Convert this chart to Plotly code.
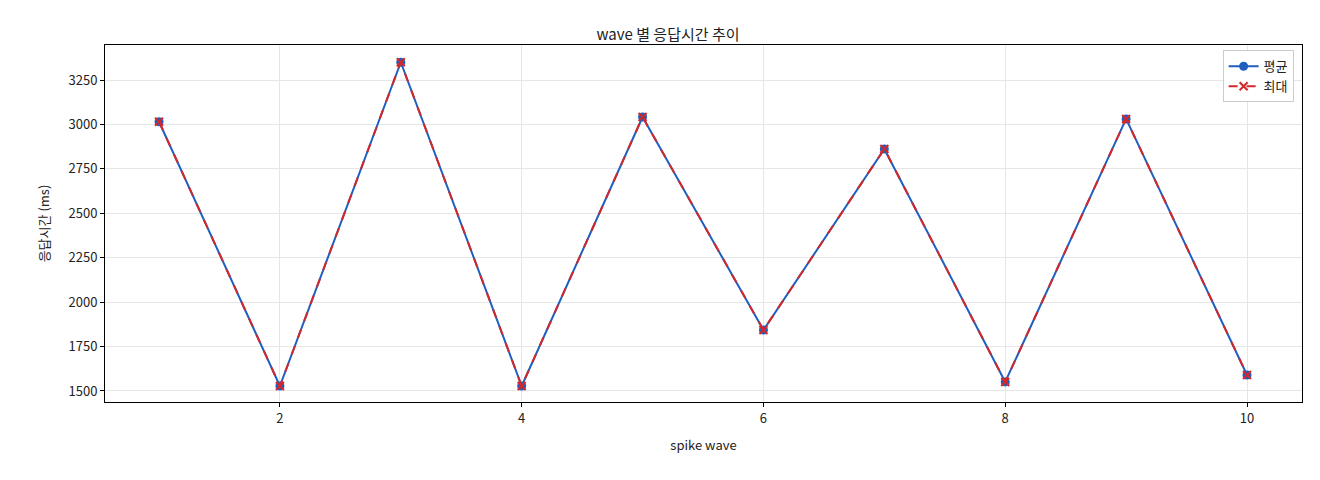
import plotly.graph_objects as go

waves = [1, 2, 3, 4, 5, 6, 7, 8, 9, 10]
avg_ms = [3015, 1528, 3350, 1528, 3042, 1843, 2862, 1551, 3031, 1590]
max_ms = [3015, 1528, 3350, 1528, 3042, 1843, 2862, 1551, 3031, 1590]

fig = go.Figure()
fig.add_trace(go.Scatter(x=waves, y=avg_ms, name="평균", mode="lines+markers",
                         line=dict(color="#1f5fbf", width=2),
                         marker=dict(symbol="circle", size=9, color="#1f5fbf")))
fig.add_trace(go.Scatter(x=waves, y=max_ms, name="최대", mode="lines+markers",
                         line=dict(color="#d62728", width=2, dash="dash"),
                         marker=dict(symbol="x-thin", size=8, color="#d62728",
                                     line=dict(width=2, color="#d62728"))))

ax = dict(showline=True, linecolor="black", linewidth=1, mirror=True,
          ticks="outside", ticklen=4, tickcolor="black",
          showgrid=True, gridcolor="#e6e6e6", zeroline=False,
          tickfont=dict(size=13, color="#222"))
fig.update_layout(
    width=1320, height=480, plot_bgcolor="white", paper_bgcolor="white",
    font=dict(family="Noto Sans CJK KR", color="#222"),
    title=dict(text="wave 별 응답시간 추이", x=0.5, xanchor="center", y=0.955, font=dict(size=15)),
    margin=dict(l=97, r=26, t=37, b=86),
    xaxis=dict(ax, range=[0.553, 10.455], tickvals=[2, 4, 6, 8, 10],
               title=dict(text="spike wave", font=dict(size=13))),
    yaxis=dict(ax, range=[1438, 3447], tickvals=[1500, 1750, 2000, 2250, 2500, 2750, 3000, 3250],
               title=dict(text="응답시간 (ms)", font=dict(size=13))),
    legend=dict(x=0.993, y=0.985, xanchor="right", yanchor="top",
                bordercolor="#ccc", borderwidth=1, bgcolor="white", font=dict(size=13)),
)
fig.write_html("out.html")
